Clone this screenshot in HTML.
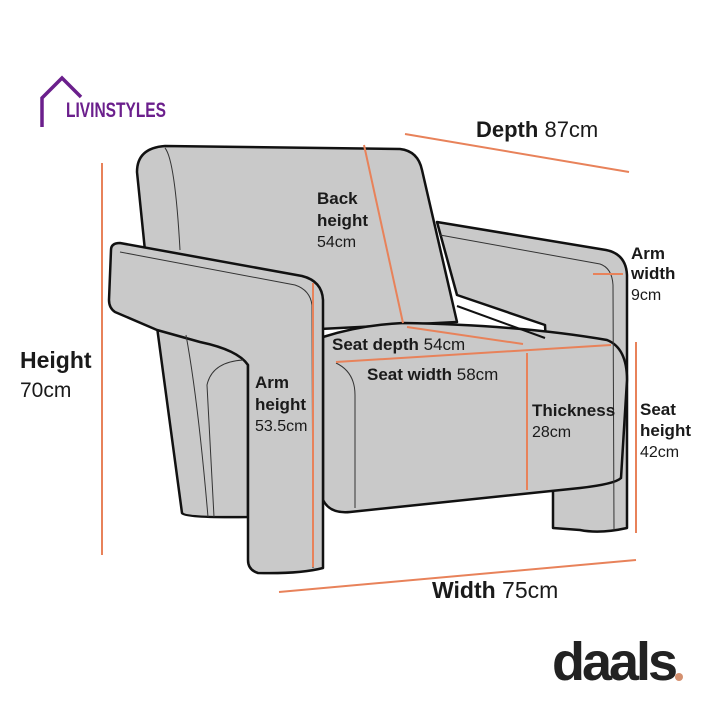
<!DOCTYPE html>
<html><head><meta charset="utf-8"><style>
html,body{margin:0;padding:0;background:#fff;}
svg{display:block}
text{font-family:"Liberation Sans",sans-serif;fill:#1a1a1a;}
.b{font-weight:bold;font-size:17px}
.r{font-size:16px}
</style></head><body>
<svg width="720" height="720" viewBox="0 0 720 720" xmlns="http://www.w3.org/2000/svg">
<rect width="720" height="720" fill="#fff"/>
<path d="M42,127 L42,98 L62,78 L81,97" fill="none" stroke="#6b1f8c" stroke-width="3.5"/>
<text x="66" y="117" style="font-family:'Liberation Sans Narrow','Liberation Sans',sans-serif;font-weight:bold;font-size:21px;fill:#6b1f8c" textLength="100" lengthAdjust="spacingAndGlyphs">LIVINSTYLES</text>

<g stroke="#111" stroke-width="2.5" stroke-linejoin="round" fill="#c9c9c9">
<path d="M437,222 L606,250 Q626,254 627,275 L627,528 Q600,534 580,530 L553,528 L553,480 L545,325 L457,295 Z"/>
<path d="M137,172 Q137,148 165,146 L400,149 Q418,151 422,170 L457,322 L300,330 L190,330 L150,300 Z"/>
<path d="M157,327 L182,513 Q185,518 248,517 L248,360 Q230,345 200,330 Z"/>
<path d="M323,337 Q360,325 403,323 Q520,325 607,340 Q627,348 627,380 L621,478 Q615,484 580,488 L350,512 Q330,514 323,500 Z"/>
<path d="M111,250 Q111,243 120,243 L302,276 Q322,281 323,300 L323,568 Q300,574 258,573 Q248,570 248,560 L248,365 Q238,350 200,342 L157,330 L115,312 Q109,308 109,300 Z"/>
</g>
<g stroke="#333" stroke-width="1" fill="none">
<path d="M165,148 Q175,160 180,250"/>
<path d="M120,252 L295,285 Q310,290 312,305 L313,568"/>
<path d="M440,235 L600,264 Q612,268 613,285 L614,530"/>
<path d="M243,360 Q212,362 207,385 L214,517"/>
<path d="M336,363 Q355,372 355,395 L355,508"/>
<path d="M186,335 Q198,400 208,517"/>
</g>
<path d="M457,306 L545,338" stroke="#111" stroke-width="2"/>

<g stroke="#e8825a" stroke-width="2" fill="none">
<line x1="405" y1="134" x2="629" y2="172"/>
<line x1="102" y1="163" x2="102" y2="555"/>
<line x1="279" y1="592" x2="636" y2="560"/>
<line x1="364" y1="145" x2="403" y2="323"/>
<line x1="407" y1="327" x2="523" y2="344"/>
<line x1="336" y1="362" x2="611" y2="345"/>
<line x1="527" y1="353" x2="527" y2="490"/>
<line x1="313" y1="283" x2="313" y2="567"/>
<line x1="593" y1="274" x2="623" y2="274"/>
<line x1="636" y1="342" x2="636" y2="533"/>
</g>

<text x="476" y="137" style="font-size:22px;font-weight:bold">Depth <tspan style="font-weight:normal">87cm</tspan></text>
<text x="20" y="368" style="font-size:23px;font-weight:bold">Height</text>
<text x="20" y="397" style="font-size:21px">70cm</text>
<text x="432" y="598" style="font-size:23px;font-weight:bold">Width <tspan style="font-weight:normal">75cm</tspan></text>
<text x="317" y="204" class="b">Back</text>
<text x="317" y="226" class="b">height</text>
<text x="317" y="247" class="r">54cm</text>
<text x="332" y="350" class="b">Seat depth <tspan style="font-weight:normal">54cm</tspan></text>
<text x="367" y="380" class="b">Seat width <tspan style="font-weight:normal">58cm</tspan></text>
<text x="255" y="388" class="b">Arm</text>
<text x="255" y="410" class="b">height</text>
<text x="255" y="431" class="r">53.5cm</text>
<text x="532" y="416" class="b">Thickness</text>
<text x="532" y="437" class="r">28cm</text>
<text x="631" y="259" class="b">Arm</text>
<text x="631" y="279" class="b">width</text>
<text x="631" y="300" class="r">9cm</text>
<text x="640" y="415" class="b">Seat</text>
<text x="640" y="436" class="b">height</text>
<text x="640" y="457" class="r">42cm</text>

<text x="552" y="680" style="font-size:54px;font-weight:bold;letter-spacing:-3px;fill:#222">daals</text>
<circle cx="679" cy="677" r="4" fill="#d4906f"/>
</svg>
</body></html>
